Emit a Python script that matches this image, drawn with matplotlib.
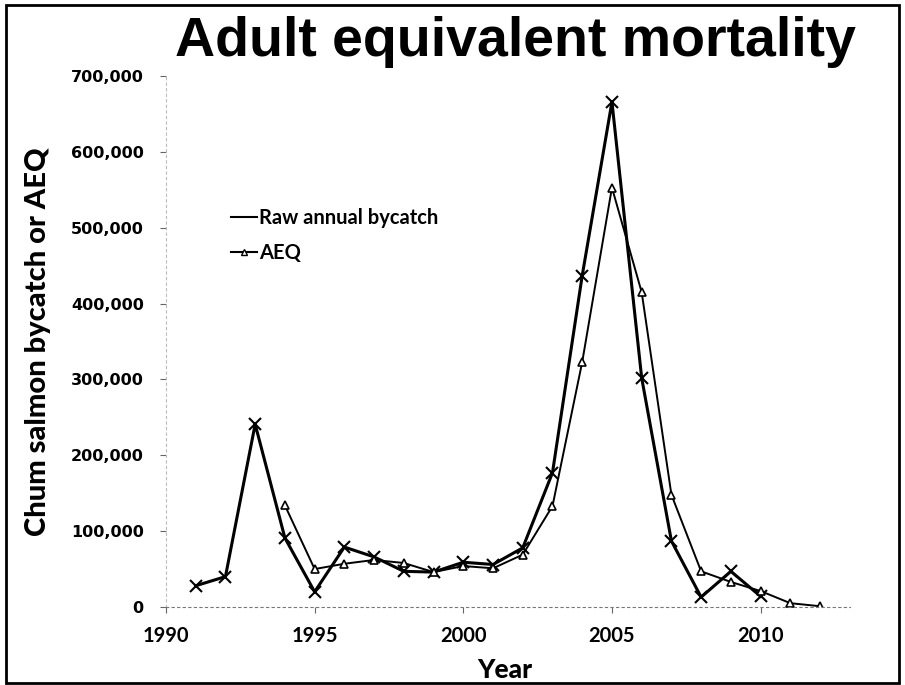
import numpy as np
import matplotlib.pyplot as plt
from matplotlib.lines import Line2D
from matplotlib.patches import Rectangle

# chum salmon bycatch by year
raw_years = [1991, 1992, 1993, 1994, 1995, 1996, 1997, 1998, 1999, 2000,
             2001, 2002, 2003, 2004, 2005, 2006, 2007, 2008, 2009, 2010]
raw_bycatch = [28000, 40000, 241000, 91000, 20000, 79000, 66000, 47000, 46000, 59000,
               56000, 78000, 177000, 437000, 666000, 302000, 87000, 13000, 47000, 14000]

aeq_years = [1994, 1995, 1996, 1997, 1998, 1999, 2000, 2001, 2002, 2003,
             2004, 2005, 2006, 2007, 2008, 2009, 2010, 2011, 2012]
aeq = [134000, 50000, 57000, 62000, 58000, 46000, 54000, 51000, 69000, 133000,
       323000, 553000, 415000, 148000, 47000, 33000, 21000, 5000, 1000]

xticks = [1990, 1995, 2000, 2005, 2010]
yticks = [0, 100000, 200000, 300000, 400000, 500000, 600000, 700000]

fig = plt.figure(figsize=(9.05, 6.85), dpi=100)
ax = fig.add_axes([0.1834, 0.1139, 0.7556, 0.7750])

ax.plot(raw_years, raw_bycatch, color='black', lw=2.2, marker='x',
        markersize=9, markeredgewidth=1.5)
ax.plot(aeq_years, aeq, color='black', lw=1.4, marker='^',
        markersize=6, markerfacecolor='white', markeredgewidth=1.2)

ax.set_xlim(1990, 2013)
ax.set_ylim(0, 700000)
ax.set_xticks(xticks)
ax.set_yticks(yticks)
ax.yaxis.set_major_formatter(plt.FuncFormatter(lambda v, p: '{:,.0f}'.format(v)))

for side in ['top', 'right']:
    ax.spines[side].set_visible(False)
for side in ['left', 'bottom']:
    ax.spines[side].set_linestyle((0, (2, 3)))
    ax.spines[side].set_color('#777777')
    ax.spines[side].set_linewidth(0.8)
ax.spines['left'].set_color('#bbbbbb')

ax.tick_params(axis='y', length=4, color='#666666', labelsize=11.5, pad=12)
ax.tick_params(axis='x', length=4, color='#666666', labelsize=14.5, pad=10)
for lbl in ax.get_yticklabels():
    lbl.set_fontfamily('DejaVu Sans')
    lbl.set_fontweight('bold')
for lbl in ax.get_xticklabels():
    lbl.set_fontfamily('Lato')
    lbl.set_fontweight('bold')

ax.set_xlabel('Year', fontfamily='Lato', fontweight='black', fontsize=19)
ax.xaxis.set_label_coords(0.496, -0.096)
ax.set_ylabel('Chum salmon bycatch or AEQ', fontfamily='Lato', fontweight='black',
              fontsize=21)
ax.yaxis.set_label_coords(-0.168, 0.5)

fig.text(0.570, 0.938, 'Adult equivalent mortality', ha='center', va='center',
         fontfamily='Liberation Sans', fontweight='bold', fontsize=40)

# legend drawn by hand: short line + label
handles = [Line2D([], [], color='black', lw=1.5),
           Line2D([], [], color='black', lw=1.5, marker='^', markersize=5,
                  markerfacecolor='white')]
leg = ax.legend(handles, ['Raw annual bycatch', 'AEQ'], loc='upper left',
                bbox_to_anchor=(0.068, 0.785), frameon=False, handlelength=1.3,
                handletextpad=0.1, labelspacing=0.75,
                prop={'family': 'Lato', 'weight': 'bold', 'size': 14.5})

# outer frame
fig.patches.append(Rectangle((0.007, 0.003), 0.986, 0.989, transform=fig.transFigure,
                             fill=False, edgecolor='black', lw=2))

fig.savefig('out.png', dpi=100)
